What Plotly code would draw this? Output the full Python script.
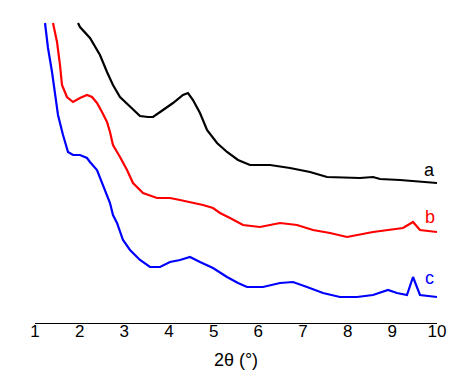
import plotly.graph_objects as go

# 2theta positions (degrees) and intensities (arbitrary units, stacked as in the picture)
a_x = [1.963, 2.007, 2.231, 2.455, 2.612, 2.746, 2.903, 3.127, 3.351, 3.530,
       3.642, 3.866, 4.090, 4.313, 4.425, 4.537, 4.694, 4.851, 5.075, 5.299,
       5.545, 5.813, 6.261, 6.709, 7.157, 7.537, 7.985, 8.276, 8.567, 8.724,
       9.172, 9.619, 10.0]
a_y = [300, 296, 285, 268, 251, 238, 226, 216, 207, 206,
       206, 213, 220, 228, 230, 223, 210, 193, 180, 171,
       163, 158, 158, 155, 151, 146, 145, 145, 146, 144,
       143, 141, 140]

b_x = [1.403, 1.493, 1.560, 1.604, 1.716, 1.851, 2.007, 2.164, 2.276, 2.388,
       2.500, 2.612, 2.679, 2.746, 2.903, 3.060, 3.194, 3.418, 3.731, 4.022,
       4.246, 4.470, 4.761, 4.985, 5.142, 5.366, 5.657, 6.037, 6.485, 6.866,
       7.224, 7.604, 7.985, 8.567, 8.948, 9.239, 9.463, 9.619, 10.0]
b_y = [300, 281, 258, 238, 226, 221, 225, 228, 226, 220,
       211, 201, 191, 178, 166, 153, 140, 130, 125, 125,
       123, 121, 118, 115, 110, 105, 98, 96, 100, 98,
       93, 90, 86, 91, 93, 95, 101, 93, 91]

c_x = [1.224, 1.291, 1.381, 1.448, 1.515, 1.627, 1.739, 1.851, 2.007, 2.164,
       2.231, 2.388, 2.500, 2.612, 2.679, 2.746, 2.836, 2.970, 3.127, 3.351,
       3.575, 3.799, 4.022, 4.246, 4.470, 4.694, 4.985, 5.299, 5.545, 5.746,
       6.104, 6.485, 6.776, 7.090, 7.448, 7.828, 8.209, 8.567, 8.903, 9.104,
       9.328, 9.463, 9.552, 9.619, 10.0]
c_y = [300, 275, 251, 228, 208, 188, 171, 168, 168, 165,
       161, 153, 140, 126, 120, 108, 100, 83, 73, 63,
       56, 56, 61, 63, 66, 61, 55, 46, 40, 36,
       36, 40, 41, 36, 30, 26, 26, 28, 33, 30,
       28, 46, 36, 28, 26]

x_ticks = [1, 2, 3, 4, 5, 6, 7, 8, 9, 10]
labels = ["a", "b", "c"]

FONT = "Liberation Sans, Arial, sans-serif"

fig = go.Figure()
for xs, ys, col in [(a_x, a_y, "#000000"), (b_x, b_y, "#FF0000"), (c_x, c_y, "#0000FF")]:
    fig.add_trace(go.Scatter(x=xs, y=ys, mode="lines", line=dict(color=col, width=2.2),
                             showlegend=False, hoverinfo="skip"))

for lab, yv, col in [(labels[0], 153, "#000000"), (labels[1], 106, "#FF0000"), (labels[2], 45, "#0000FF")]:
    fig.add_annotation(x=9.84, y=yv, text=lab, showarrow=False,
                       font=dict(family=FONT, size=18, color=col), xanchor="center", yanchor="middle")

# page body has an 8px default margin, so the figure is sized/offset to compensate
fig.update_layout(
    width=450, height=369,
    margin=dict(l=27, r=21, t=14, b=54),
    paper_bgcolor="white", plot_bgcolor="white",
    font=dict(family=FONT, size=17, color="black"),
    xaxis=dict(range=[1, 10], tickvals=x_ticks, ticktext=[str(t) for t in x_ticks],
               showgrid=False, zeroline=False, showline=True, linecolor="black", linewidth=1,
               ticks="", ticklabelstandoff=-7, tickfont=dict(size=17, family=FONT),
               title=dict(text="2θ (°)", font=dict(size=18, family=FONT), standoff=12)),
    yaxis=dict(range=[0, 301], visible=False, showgrid=False, zeroline=False),
)

fig.write_html("out.html")
